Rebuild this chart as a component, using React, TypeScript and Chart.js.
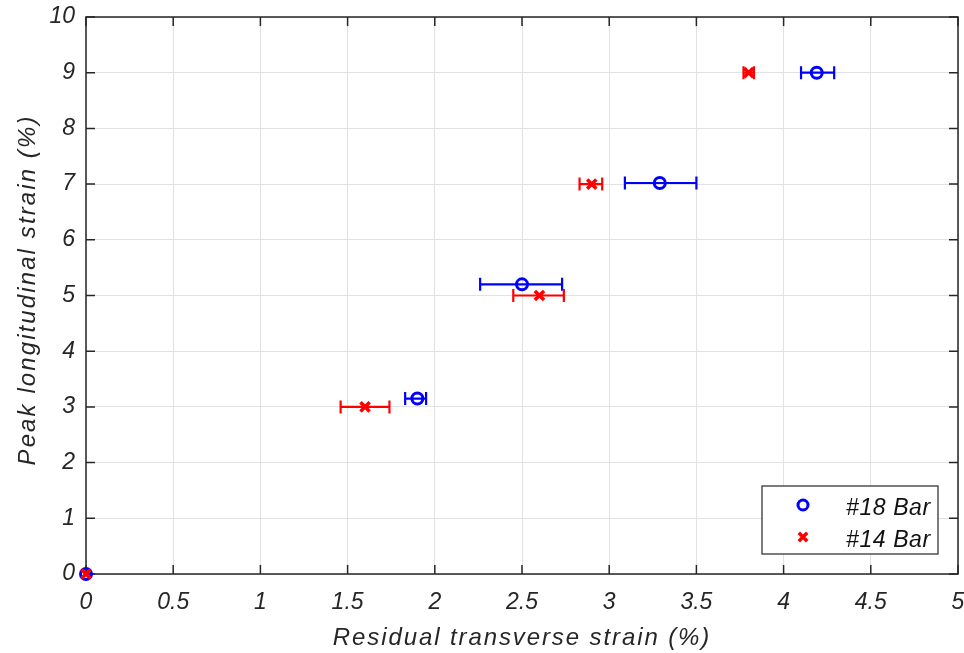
import React, { useEffect, useRef } from 'react';
import { Chart, registerables } from 'chart.js';

Chart.register(...registerables);

// ---- data ----
const seriesLabels = ['#18 Bar', '#14 Bar'];
const seriesColors = ['#0000ff', '#ff0000'];

const bar18X = [0, 1.9, 2.5, 3.29, 4.19];
const bar18Y = [0, 3.15, 5.2, 7.02, 9.0];
const bar18XLow = [0, 1.83, 2.26, 3.09, 4.1];
const bar18XHigh = [0, 1.95, 2.73, 3.5, 4.29];

const bar14X = [0, 1.6, 2.6, 2.9, 3.8];
const bar14Y = [0, 3.0, 5.0, 7.0, 9.0];
const bar14XLow = [0, 1.46, 2.45, 2.83, 3.77];
const bar14XHigh = [0, 1.74, 2.74, 2.96, 3.83];

const xTitle = 'Residual transverse strain (%)';
const yTitle = 'Peak longitudinal strain (%)';
const xMin = 0, xMax = 5, xStep = 0.5;
const yMin = 0, yMax = 10, yStep = 1;

// ---- style ----
const FONT = '"Liberation Sans", Arial, sans-serif';
const AXIS = '#262626';
const GRID = '#e2e2e2';

const zeroPad = () => ({ left: 0, top: 0, right: 0, bottom: 0 });

const framePlugin = {
  id: 'frame',
  beforeDatasetsDraw(chart: any) {
    const { ctx, chartArea, scales } = chart;
    const { left, right, top, bottom } = chartArea;
    const L = 9;
    ctx.save();
    ctx.strokeStyle = AXIS;
    ctx.lineWidth = 1.5;
    ctx.strokeRect(left, top, right - left, bottom - top);
    ctx.beginPath();
    scales.x.ticks.forEach((t: any) => {
      const px = scales.x.getPixelForValue(t.value);
      ctx.moveTo(px, bottom);
      ctx.lineTo(px, bottom - L);
      ctx.moveTo(px, top);
      ctx.lineTo(px, top + L);
    });
    scales.y.ticks.forEach((t: any) => {
      const py = scales.y.getPixelForValue(t.value);
      ctx.moveTo(left, py);
      ctx.lineTo(left + L, py);
      ctx.moveTo(right, py);
      ctx.lineTo(right - L, py);
    });
    ctx.stroke();
    ctx.restore();
  },
};

const errorBarPlugin = {
  id: 'errorBars',
  beforeDatasetsDraw(chart: any) {
    const { ctx, scales } = chart;
    const cap = 6.5;
    chart.data.datasets.forEach((ds: any) => {
      ctx.save();
      ctx.strokeStyle = ds.borderColor;
      ctx.lineWidth = 2.2;
      ctx.beginPath();
      ds.data.forEach((pt: any, i: number) => {
        const py = scales.y.getPixelForValue(pt.y);
        const x0 = scales.x.getPixelForValue(ds.xLow[i]);
        const x1 = scales.x.getPixelForValue(ds.xHigh[i]);
        if (x1 - x0 < 0.5) return;
        ctx.moveTo(x0, py);
        ctx.lineTo(x1, py);
        ctx.moveTo(x0, py - cap);
        ctx.lineTo(x0, py + cap);
        ctx.moveTo(x1, py - cap);
        ctx.lineTo(x1, py + cap);
      });
      ctx.stroke();
      ctx.restore();
    });
  },
};

const titlesLegendPlugin = {
  id: 'titlesLegend',
  afterDraw(chart: any) {
    const { ctx, chartArea } = chart;
    const { left, right, bottom } = chartArea;
    ctx.save();
    ctx.fillStyle = AXIS;
    ctx.font = `italic 24px ${FONT}`;
    ctx.textAlign = 'center';
    ctx.textBaseline = 'alphabetic';
    ctx.letterSpacing = '1.9px';
    ctx.fillText(xTitle, (left + right) / 2, 645);
    ctx.save();
    ctx.letterSpacing = '2.1px';
    ctx.translate(35, 290);
    ctx.rotate(-Math.PI / 2);
    ctx.fillText(yTitle, 0, 0);
    ctx.restore();
    ctx.restore();

    // legend
    const w = 176, h = 68;
    const bx = right - 20 - w;
    const by = bottom - 20 - h;
    ctx.save();
    ctx.fillStyle = '#ffffff';
    ctx.fillRect(bx, by, w, h);
    ctx.strokeStyle = AXIS;
    ctx.lineWidth = 1.2;
    ctx.strokeRect(bx, by, w, h);
    ctx.font = `italic 23px ${FONT}`;
    ctx.letterSpacing = '0.6px';
    ctx.textAlign = 'left';
    ctx.textBaseline = 'alphabetic';
    seriesLabels.forEach((lab, i) => {
      const ds: any = chart.data.datasets.find((d: any) => d.label === lab);
      const cy = by + 19 + i * 32;
      const mx = bx + 41;
      ctx.strokeStyle = ds.borderColor;
      ctx.lineWidth = ds.borderWidth;
      ctx.beginPath();
      if (ds.pointStyle === 'circle') {
        ctx.arc(mx, cy, 5, 0, Math.PI * 2);
      } else {
        const r = 4.2;
        ctx.moveTo(mx - r, cy - r);
        ctx.lineTo(mx + r, cy + r);
        ctx.moveTo(mx + r, cy - r);
        ctx.lineTo(mx - r, cy + r);
      }
      ctx.stroke();
      ctx.fillStyle = '#111111';
      ctx.fillText(ds.label, bx + 84, cy + 10);
    });
    ctx.restore();
  },
};

export default function App() {
  const ref = useRef<HTMLCanvasElement | null>(null);

  useEffect(() => {
    document.body.style.margin = '0';
    const canvas = ref.current;
    if (!canvas) return;
    const chart = new Chart(canvas, {
      type: 'scatter',
      data: {
        datasets: [
          {
            label: seriesLabels[0],
            data: bar18X.map((x, i) => ({ x, y: bar18Y[i] })),
            xLow: bar18XLow,
            xHigh: bar18XHigh,
            borderColor: seriesColors[0],
            backgroundColor: 'rgba(0,0,0,0)',
            pointStyle: 'circle',
            pointRadius: 5.5,
            borderWidth: 3,
            clip: false,
            order: 1,
          } as any,
          {
            label: seriesLabels[1],
            data: bar14X.map((x, i) => ({ x, y: bar14Y[i] })),
            xLow: bar14XLow,
            xHigh: bar14XHigh,
            borderColor: seriesColors[1],
            backgroundColor: 'rgba(0,0,0,0)',
            pointStyle: 'crossRot',
            pointRadius: 6.5,
            borderWidth: 3.5,
            clip: false,
            order: 0,
          } as any,
        ],
      },
      options: {
        responsive: false,
        animation: false,
        layout: { autoPadding: false, padding: { left: 0, top: 17, right: 6, bottom: 0 } },
        plugins: {
          legend: { display: false },
          tooltip: { enabled: false },
        },
        scales: {
          x: {
            type: 'linear',
            min: xMin,
            max: xMax,
            afterFit: (s: any) => {
              s.height = 79; s.paddingLeft = 0; s.paddingRight = 0;
              s.getPadding = zeroPad;
            },
            ticks: {
              stepSize: xStep,
              padding: 15,
              color: AXIS,
              font: { family: FONT, size: 23, style: 'italic' },
              maxRotation: 0,
              autoSkip: false,
              callback: (v: any) => String(Math.round(Number(v) * 10) / 10),
            },
            grid: { color: GRID, lineWidth: 1, drawTicks: false },
            border: { display: false },
          },
          y: {
            type: 'linear',
            min: yMin,
            max: yMax,
            afterFit: (s: any) => {
              s.width = 86; s.paddingTop = 0; s.paddingBottom = 0;
              s.getPadding = zeroPad;
            },
            ticks: {
              stepSize: yStep,
              padding: 11,
              color: AXIS,
              font: { family: FONT, size: 23, style: 'italic' },
              autoSkip: false,
              callback: (v: any) => String(v),
            },
            grid: { color: GRID, lineWidth: 1, drawTicks: false },
            border: { display: false },
          },
        },
      },
      plugins: [framePlugin, errorBarPlugin, titlesLegendPlugin],
    });
    return () => chart.destroy();
  }, []);

  return (
    <div style={{ position: 'absolute', left: 0, top: 0, width: 964, height: 653, background: '#ffffff' }}>
      <canvas ref={ref} width={964} height={653} style={{ width: 964, height: 653 }} />
    </div>
  );
}
